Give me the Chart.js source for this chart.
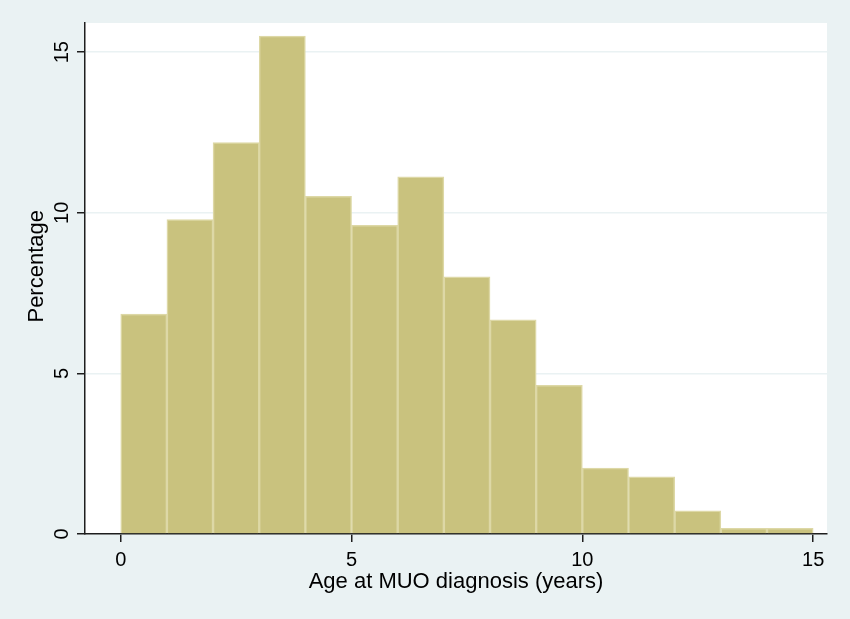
<!DOCTYPE html>
<html>
<head>
<meta charset="utf-8">
<script src="https://cdn.jsdelivr.net/npm/chart.js@4.4.1/dist/chart.umd.min.js"></script>
<style>
html, body { margin: 0; padding: 0; background: #fff; }
canvas { display: block; }
</style>
</head>
<body>
<canvas id="hist" width="850" height="619"></canvas>
<script>
// histogram bins (width 1 year), value = % of cases
const binMids = [0.5, 1.5, 2.5, 3.5, 4.5, 5.5, 6.5, 7.5, 8.5, 9.5, 10.5, 11.5, 12.5, 13.5, 14.5]
const percentages = [6.85, 9.79, 12.19, 15.5, 10.51, 9.61, 11.12, 8.01, 6.67, 4.63, 2.05, 1.78, 0.72, 0.18, 0.18]
const xTicks = [0, 5, 10, 15]
const yTicks = [0, 5, 10, 15]

const bg = '#eaf2f3'
const ink = '#1e1e1e'

Chart.defaults.font.family = "'Liberation Sans', Arial, Helvetica, sans-serif"
Chart.defaults.color = '#000'

const plotBg = {
    id: 'plotBg',
    beforeDraw(chart) {
        const {ctx, chartArea: a} = chart
        ctx.save()
        ctx.fillStyle = bg
        ctx.fillRect(0, 0, chart.width, chart.height)
        ctx.fillStyle = '#fff'
        ctx.fillRect(a.left, a.top, a.right - a.left, a.bottom - a.top)
        ctx.restore()
    }
}

const data = {
    datasets: [
        {
            label: 'Percentage',
            data: binMids.map((m, i) => ({x: m, y: percentages[i]})),
            backgroundColor: '#c9c27e',
            borderColor: '#ddd8a6',
            borderWidth: 1.5,
            categoryPercentage: 1,
            barPercentage: 1,
            grouped: false,
        }
    ]
}

const config = {
    type: 'bar',
    data: data,
    options: {
        responsive: false,
        animation: false,
        layout: { padding: {top: 23, right: 23, left: 0, bottom: 0} },
        plugins: {
            legend: { display: false },
            tooltip: { enabled: false }
        },
        scales: {
            x: {
                type: 'linear',
                offset: false,
                min: -0.774,
                max: 15.3,
                afterBuildTicks: s => { s.ticks = xTicks.map(v => ({value: v})) },
                afterFit: s => { s.height = 85 },
                grid: {
                    offset: false,
                    drawOnChartArea: false,
                    drawTicks: true,
                    tickLength: 8,
                    tickColor: ink,
                    lineWidth: 1.5,
                },
                border: { display: true, color: ink, width: 1.5 },
                ticks: {
                    padding: 6,
                    maxRotation: 0,
                    font: { size: 20 },
                    color: '#000',
                },
                title: {
                    display: true,
                    text: 'Age at MUO diagnosis (years)',
                    font: { size: 22 },
                    padding: {top: 0, bottom: 24},
                    color: '#000',
                }
            },
            y: {
                min: 0,
                max: 15.91,
                afterBuildTicks: s => { s.ticks = yTicks.map(v => ({value: v})) },
                afterFit: s => { s.width = 85 },
                grid: {
                    color: bg,
                    lineWidth: 1.5,
                    drawTicks: true,
                    tickLength: 8,
                    tickColor: ink,
                    tickWidth: 1.5,
                },
                border: { display: true, color: ink, width: 1.5 },
                ticks: {
                    minRotation: 90,
                    maxRotation: 90,
                    crossAlign: 'center',
                    padding: 3,
                    font: { size: 20 },
                    color: '#000',
                },
                title: {
                    display: true,
                    text: '    Percentage',
                    font: { size: 22 },
                    padding: {top: 24, bottom: 0},
                    color: '#000',
                }
            }
        }
    },
    plugins: [plotBg]
}

const hist = new Chart(document.getElementById('hist').getContext('2d'), config)
</script>
</body>
</html>
